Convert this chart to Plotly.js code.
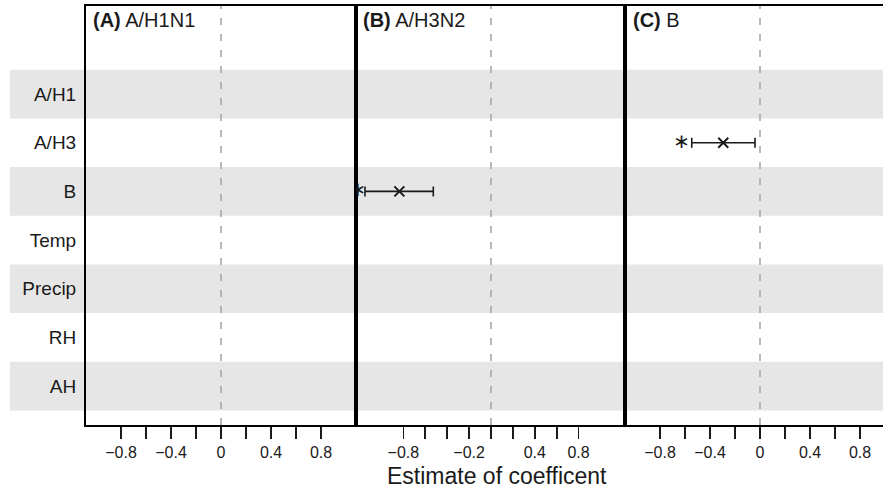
<!DOCTYPE html>
<html>
<head>
<meta charset="utf-8">
<script src="https://cdn.plot.ly/plotly-3.0.1.min.js"></script>
<style>html,body{margin:0;padding:0;background:#fff;}#chart{width:883px;height:495px;}</style>
</head>
<body>
<div id="chart"></div>
<script>
// ---- data ----
const categories = ['A/H1', 'A/H3', 'B', 'Temp', 'Precip', 'RH', 'AH'];
const panelTitles = ['A/H1N1', 'A/H3N2', 'B'];
const panelLetters = ['(A)', '(B)', '(C)'];
// significant estimates per panel (only those drawn)
const panelBVars = ['B'];
const panelBEst = [-0.837];
const panelBLow = [-1.151];
const panelBHigh = [-0.527];
const panelBStarX = [-1.215];
const panelCVars = ['A/H3'];
const panelCEst = [-0.294];
const panelCLow = [-0.546];
const panelCHigh = [-0.04];
const panelCStarX = [-0.626];
const tickVals = [-0.8, -0.6, -0.4, -0.2, 0, 0.2, 0.4, 0.6, 0.8];
const tickTextAC = ['\u22120.8', '', '\u22120.4', '', '0', '', '0.4', '', '0.8'];
const tickTextB = ['\u22120.8', '', '', '\u22120.2', '', '', '0.4', '', '0.8'];
const xTitle = 'Estimate of coefficent';

// ---- layout helpers ----
const W = 883, H = 495;
const px = v => v / W;
const py = v => (H - v) / H;
const yPos = c => categories.indexOf(c) + 1;
const FONT = 'Liberation Sans, Arial, sans-serif';
const INK = '#1a1a1a';

function ciTrace(vars, est, lo, hi, xa, ya) {
  return {
    type: 'scatter', mode: 'markers', xaxis: xa, yaxis: ya,
    x: est, y: vars.map(yPos),
    marker: {symbol: 'x-thin-open', size: 10, color: INK, line: {width: 2, color: INK}},
    error_x: {type: 'data', symmetric: false,
      array: est.map((e, i) => hi[i] - e),
      arrayminus: est.map((e, i) => e - lo[i]),
      color: INK, thickness: 1.6, width: 5},
    hoverinfo: 'skip', showlegend: false, cliponaxis: true
  };
}
function starTrace(vars, sx, xa, ya) {
  return {
    type: 'scatter', mode: 'text', xaxis: xa, yaxis: ya,
    x: sx, y: vars.map(yPos), text: vars.map(() => '\u2217'),
    textposition: 'middle center',
    textfont: {family: 'DejaVu Sans', size: 20, color: INK},
    hoverinfo: 'skip', showlegend: false, cliponaxis: true
  };
}

const traces = [
  {type: 'scatter', mode: 'markers', x: [0], y: [1], xaxis: 'x', yaxis: 'y',
   marker: {opacity: 0}, hoverinfo: 'skip', showlegend: false},
  ciTrace(panelBVars, panelBEst, panelBLow, panelBHigh, 'x2', 'y2'),
  starTrace(panelBVars, panelBStarX, 'x2', 'y2'),
  ciTrace(panelCVars, panelCEst, panelCLow, panelCHigh, 'x3', 'y3'),
  starTrace(panelCVars, panelCStarX, 'x3', 'y3')
];

const yTop = py(6), yBot = py(425);
const yRange = [7.80, -0.81];
const xDomains = [[px(86), px(356)], [px(356), px(625)], [px(625), 1]];
const xRanges = [[-1.08, 1.08], [-1.233, 1.224], [-1.08, 0.984]];

function xAxis(i, ticktext) {
  return {
    domain: xDomains[i], range: xRanges[i], anchor: i === 0 ? 'y' : 'y' + (i + 1),
    showgrid: false, zeroline: false, showline: true, mirror: true,
    linecolor: '#000', linewidth: 2,
    ticks: 'outside', ticklen: 12, tickwidth: 1.8, tickcolor: INK,
    tickmode: 'array', tickvals: tickVals, ticktext: ticktext,
    tickfont: {family: FONT, size: 16, color: INK}
  };
}
function yAxis(i) {
  return {
    domain: [yBot, yTop], range: yRange, anchor: i === 0 ? 'x' : 'x' + (i + 1),
    showgrid: false, zeroline: false, showline: true, mirror: i < 2,
    linecolor: '#000', linewidth: 2,
    tickmode: 'array', tickvals: categories.map((c, k) => k + 1),
    ticktext: categories, showticklabels: i === 0, ticks: '',
    ticklabelstandoff: 4,
    tickfont: {family: FONT, size: 19, color: INK}
  };
}

const shapes = [];
// alternating grey bands
categories.forEach((c, k) => {
  if (k % 2 === 0) {
    shapes.push({type: 'rect', layer: 'below', xref: 'paper', yref: 'y',
      x0: px(10), x1: 1, y0: k + 0.5, y1: k + 1.5,
      fillcolor: '#e6e6e6', line: {width: 0}});
  }
});
// dashed zero lines
['x', 'x2', 'x3'].forEach(xr => {
  shapes.push({type: 'line', layer: 'below', xref: xr, yref: 'paper',
    x0: 0, x1: 0, y0: yBot, y1: yTop,
    line: {color: '#a8a8a8', width: 1.6, dash: '7px,9px'}});
});

const labelX = [px(91), px(361), px(631)];
const annotations = panelTitles.map((t, i) => ({
  xref: 'paper', yref: 'paper', x: labelX[i], y: py(19.5),
  xanchor: 'left', yanchor: 'middle', showarrow: false,
  text: '<b>' + panelLetters[i] + '</b> ' + t,
  font: {family: FONT, size: 20, color: INK}
}));
annotations.push({
  xref: 'paper', yref: 'paper', x: px(497), y: py(476),
  xanchor: 'center', yanchor: 'middle', showarrow: false,
  text: xTitle, font: {family: FONT, size: 23, color: INK}
});

const layout = {
  width: W, height: H,
  margin: {l: 0, r: 0, t: 0, b: 0},
  paper_bgcolor: '#fff', plot_bgcolor: 'rgba(0,0,0,0)',
  showlegend: false,
  xaxis: xAxis(0, tickTextAC), xaxis2: xAxis(1, tickTextB), xaxis3: xAxis(2, tickTextAC),
  yaxis: yAxis(0), yaxis2: yAxis(1), yaxis3: yAxis(2),
  shapes: shapes, annotations: annotations
};

Plotly.newPlot('chart', traces, layout, {staticPlot: true, displayModeBar: false});
</script>
</body>
</html>
